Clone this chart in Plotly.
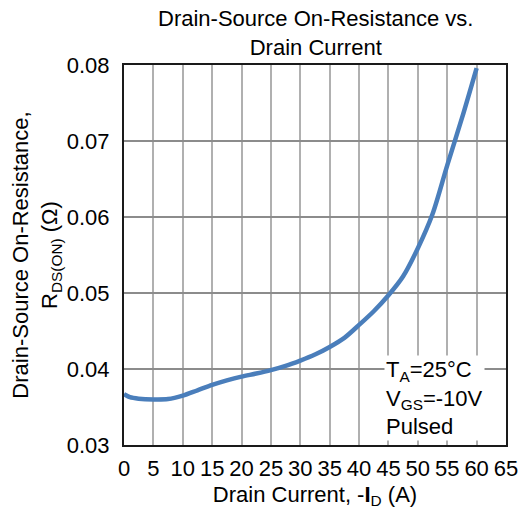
import plotly.graph_objects as go

# drain current (A) and on-resistance (ohm)
drain_current = [0, 1, 2.5, 5, 7.5, 10, 12.5, 15, 17.5, 20, 22.5, 25, 27.5, 30,
                 32.5, 35, 37.5, 40, 42.5, 45, 47.5, 50, 52.5, 55, 57.5, 60]
r_ds_on = [0.0367, 0.0363, 0.0361, 0.0360, 0.03605, 0.0365, 0.0372, 0.0379,
           0.0385, 0.0390, 0.0394, 0.03985, 0.0404, 0.0411, 0.0419, 0.0429,
           0.0441, 0.0458, 0.0476, 0.0497, 0.0522, 0.0559, 0.0604, 0.0668,
           0.0730, 0.0796]

x_ticks = list(range(0, 70, 5))
y_ticks = [0.03, 0.04, 0.05, 0.06, 0.07, 0.08]

FONT = "Liberation Sans, Arial, sans-serif"

fig = go.Figure(
    go.Scatter(
        x=drain_current,
        y=r_ds_on,
        mode="lines",
        line=dict(color="#4a7ebb", width=4.5, shape="spline", smoothing=0.8),
        hoverinfo="skip",
    )
)

fig.update_layout(
    width=524,
    height=522,
    margin=dict(l=124, r=18, t=65, b=77),
    paper_bgcolor="white",
    plot_bgcolor="white",
    showlegend=False,
    font=dict(family=FONT, size=22, color="black"),
    annotations=[
        # chart title
        dict(
            text="Drain-Source On-Resistance vs.<br>Drain Current",
            x=0.5,
            y=1,
            xref="paper",
            yref="paper",
            xanchor="center",
            yanchor="bottom",
            yshift=3,
            showarrow=False,
            font=dict(size=22),
        ),
        # test conditions box
        dict(
            text="T<sub>A</sub>=25°C<br>V<sub>GS</sub>=-10V<br>Pulsed",
            x=44.3,
            y=0.0305,
            xref="x",
            yref="y",
            xanchor="left",
            yanchor="bottom",
            align="left",
            showarrow=False,
            bgcolor="white",
            font=dict(size=22),
            borderpad=1,
        ),
    ],
)

fig.update_xaxes(
    range=[0, 65],
    tickvals=x_ticks,
    ticktext=[str(v) for v in x_ticks],
    showgrid=True,
    gridcolor="#b0b0b0",
    gridwidth=1.5,
    showline=True,
    linecolor="#1a1a1a",
    linewidth=2,
    mirror=True,
    zeroline=False,
    ticks="",
    ticklabelstandoff=3,
    automargin=False,
    title=dict(text="Drain Current, -<b>I</b><sub>D</sub> (A)", standoff=6,
               font=dict(size=22)),
)

fig.update_yaxes(
    range=[0.03, 0.08],
    tickvals=y_ticks,
    ticktext=[f"{v:.2f}" for v in y_ticks],
    showgrid=True,
    gridcolor="#8c8c8c",
    gridwidth=1.5,
    showline=True,
    linecolor="#1a1a1a",
    linewidth=2,
    mirror=True,
    zeroline=False,
    ticks="",
    ticklabelstandoff=8,
    automargin=False,
    title=dict(text="Drain-Source On-Resistance,<br>R<sub>DS(ON)</sub> (Ω)",
               standoff=3, font=dict(size=22)),
)

# drop the browser's default body margin so the figure sits at the page origin
fig.write_html(
    "out.html",
    config={"displayModeBar": False},
    post_script="document.body.style.margin='0';",
)
